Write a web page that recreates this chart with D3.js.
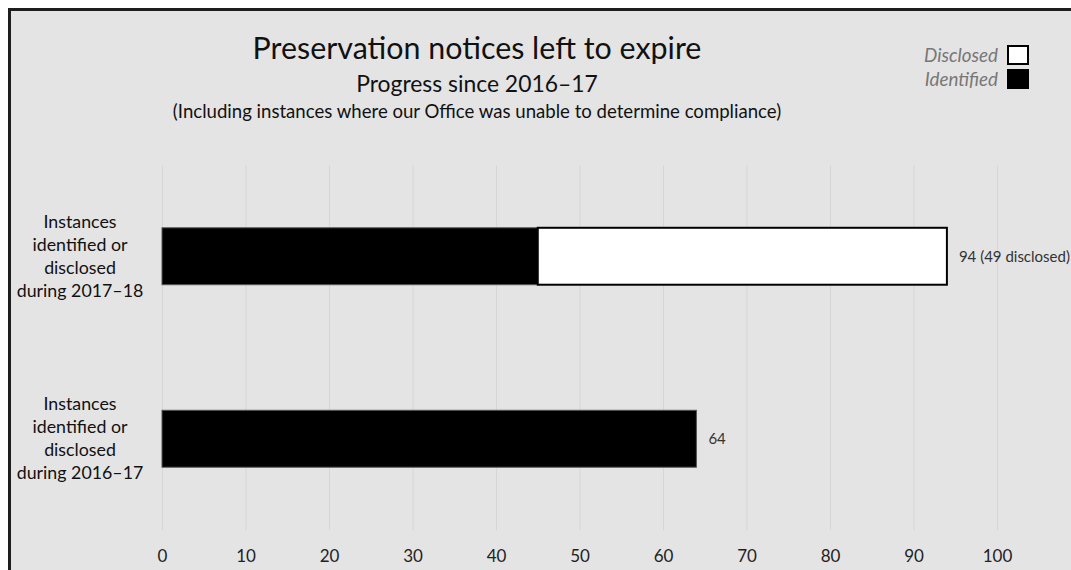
<!DOCTYPE html>
<html>
<head>
<meta charset="utf-8">
<script src="https://cdn.jsdelivr.net/npm/d3@7"></script>
<style>
  html, body { margin: 0; padding: 0; background: #fff; }
  svg { display: block; font-family: Lato, "Noto Sans", sans-serif; }
</style>
</head>
<body>
<svg id="chart" width="1071" height="570"></svg>
<script>
// ---- data ----
const categories = [
  ["Instances", "identified or", "disclosed", "during 2017–18"],
  ["Instances", "identified or", "disclosed", "during 2016–17"]
];
const identified = [45, 64];
const disclosed = [49, 0];
const valueLabels = ["94 (49 disclosed)", "64"];
const xTicks = [0, 10, 20, 30, 40, 50, 60, 70, 80, 90, 100];
const seriesNames = ["Disclosed", "Identified"];
const titleText = "Preservation notices left to expire";
const subtitleText = "Progress since 2016–17";
const noteText = "(Including instances where our Office was unable to determine compliance)";

// ---- layout ----
const W = 1071, H = 570;
const svg = d3.select("#chart");

svg.append("rect").attr("x", 0).attr("y", 0).attr("width", W).attr("height", H).attr("fill", "#fff");
svg.append("rect").attr("x", 9.5).attr("y", 9.5).attr("width", W + 20).attr("height", H + 20)
  .attr("fill", "#e4e4e4").attr("stroke", "#1e1e1e").attr("stroke-width", 3);

const x = d3.scaleLinear().domain([0, 100]).range([162, 997]);
const idx = d3.range(categories.length);
const y = d3.scaleBand().domain(idx).range([165, 530]).paddingInner(0.688).paddingOuter(0.344);

// gridlines
svg.append("g").selectAll("line").data(xTicks).join("line")
  .attr("x1", d => x(d) + 0.5).attr("x2", d => x(d) + 0.5)
  .attr("y1", 165).attr("y2", 530)
  .attr("stroke", "#d6d6d6").attr("stroke-width", 1);

// axis labels via d3 axis
const axis = d3.axisBottom(x).tickValues(xTicks).tickSize(0).tickPadding(0).tickFormat(d3.format("d"));
const gx = svg.append("g").attr("transform", "translate(0,550)").call(axis);
gx.select(".domain").remove();
gx.selectAll("text").attr("font-size", 17).attr("fill", "#222").attr("dy", "0.71em")
  .attr("font-family", "Lato, 'Noto Sans', sans-serif");

// bars: identified
svg.append("g").selectAll("rect").data(idx).join("rect")
  .attr("x", x(0)).attr("y", i => y(i))
  .attr("width", i => x(identified[i]) - x(0))
  .attr("height", y.bandwidth())
  .attr("fill", "#000").attr("stroke", "#555").attr("stroke-width", 1);

// bars: disclosed
svg.append("g").selectAll("rect").data(idx.filter(i => disclosed[i] > 0)).join("rect")
  .attr("x", i => x(identified[i])).attr("y", i => y(i))
  .attr("width", i => x(identified[i] + disclosed[i]) - x(identified[i]))
  .attr("height", y.bandwidth())
  .attr("fill", "#fff").attr("stroke", "#000").attr("stroke-width", 2);

// value labels
svg.append("g").selectAll("text").data(idx).join("text")
  .attr("x", i => x(identified[i] + disclosed[i]) + 12)
  .attr("y", i => y(i) + y.bandwidth() / 2)
  .attr("dy", "0.35em")
  .attr("font-size", 15).attr("fill", "#333")
  .text(i => valueLabels[i]);

// category labels
const cg = svg.append("g").selectAll("text").data(idx).join("text")
  .attr("text-anchor", "middle")
  .attr("font-size", 17.8).attr("fill", "#111");
cg.each(function(i) {
  const t = d3.select(this);
  const lines = categories[i];
  const lh = 23;
  const cy = y(i) + y.bandwidth() / 2;
  lines.forEach((l, k) => {
    t.append("tspan").attr("x", 80)
      .attr("y", cy + (k - (lines.length - 1) / 2) * lh)
      .attr("dy", "0.35em").text(l);
  });
});

// titles
svg.append("text").attr("x", 477).attr("y", 59).attr("text-anchor", "middle")
  .attr("font-size", 30.4).attr("fill", "#111").text(titleText);
svg.append("text").attr("x", 477).attr("y", 92).attr("text-anchor", "middle")
  .attr("font-size", 22.9).attr("fill", "#111").text(subtitleText);
svg.append("text").attr("x", 477).attr("y", 118).attr("text-anchor", "middle")
  .attr("font-size", 18.6).attr("fill", "#111").text(noteText);

// legend
const legFill = ["#fff", "#000"];
const lg = svg.append("g").selectAll("g").data(seriesNames).join("g")
  .attr("transform", (d, k) => `translate(0,${46 + k * 24})`);
lg.append("rect").attr("x", 1008).attr("y", 0).attr("width", 20).attr("height", 18)
  .attr("fill", (d, k) => legFill[k]).attr("stroke", "#000").attr("stroke-width", 2);
lg.append("text").attr("x", 998).attr("y", 16).attr("text-anchor", "end")
  .attr("font-size", 18.8).attr("font-style", "italic").attr("fill", "#777").text(d => d);
</script>
</body>
</html>
